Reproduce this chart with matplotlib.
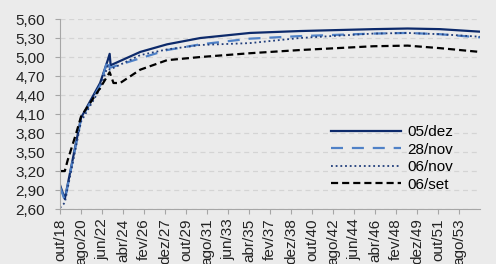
import matplotlib.pyplot as plt

# months since out/2018
meses_dez = [0, 5, 22, 42, 50, 52, 53, 84, 112, 147, 199, 251, 328, 364, 398, 440]
dez05 = [2.98, 2.76, 4.04, 4.59, 4.95, 5.05, 4.87, 5.08, 5.20, 5.30, 5.38, 5.41, 5.44, 5.45, 5.44, 5.40]

meses_nov28 = [0, 5, 22, 42, 50, 52, 84, 112, 147, 199, 251, 328, 364, 398, 440]
nov28 = [2.95, 2.74, 4.02, 4.55, 4.96, 4.83, 4.98, 5.11, 5.20, 5.29, 5.33, 5.37, 5.38, 5.36, 5.31]

meses_nov06 = [0, 5, 22, 42, 50, 52, 84, 112, 147, 199, 251, 328, 364, 398, 440]
nov06 = [2.62, 2.70, 3.98, 4.50, 4.86, 4.80, 5.03, 5.12, 5.19, 5.22, 5.30, 5.37, 5.38, 5.36, 5.32]

meses_set = [0, 5, 8, 17, 22, 42, 52, 56, 63, 84, 112, 147, 199, 251, 328, 364, 398, 440]
set06 = [3.20, 3.20, 3.37, 3.80, 4.06, 4.51, 4.76, 4.59, 4.59, 4.80, 4.95, 5.00, 5.06, 5.11, 5.17, 5.18, 5.14, 5.08]

xticks = list(range(0, 440, 22))
xlabels = ['out/18', 'ago/20', 'jun/22', 'abr/24', 'fev/26', 'dez/27', 'out/29',
           'ago/31', 'jun/33', 'abr/35', 'fev/37', 'dez/38', 'out/40', 'ago/42',
           'jun/44', 'abr/46', 'fev/48', 'dez/49', 'out/51', 'ago/53']
yticks = [2.6, 2.9, 3.2, 3.5, 3.8, 4.1, 4.4, 4.7, 5.0, 5.3, 5.6]

plt.rcParams['font.family'] = ['Liberation Sans', 'DejaVu Sans']
bg = '#EBEBEB'

fig = plt.figure(figsize=(4.96, 2.64), dpi=100, facecolor=bg)
ax = fig.add_axes([0.121, 0.208, 0.847, 0.72])
ax.set_facecolor(bg)

ax.plot(meses_dez, dez05, color='#0D2A6B', lw=1.6, label='05/dez')
ax.plot(meses_nov28, nov28, color='#4F81C7', lw=1.6, ls=(0, (5.4, 4)), label='28/nov')
ax.plot(meses_nov06, nov06, color='#1F3C7A', lw=1.3, ls=(0, (1, 1.6)), label='06/nov')
ax.plot(meses_set, set06, color='black', lw=1.6, ls=(0, (3.2, 1.8)), label='06/set')

ax.set_xlim(0, 440)
ax.set_ylim(2.6, 5.6)
ax.set_yticks(yticks)
ax.set_yticklabels([('%.2f' % v).replace('.', ',') for v in yticks])
ax.set_xticks(xticks)
ax.set_xticklabels(xlabels, rotation=90)

ax.yaxis.grid(True, color='#D4D4D4', ls=(0, (4, 3)), lw=0.9)
ax.set_axisbelow(True)
for s in ['top', 'right']:
    ax.spines[s].set_visible(False)
for s in ['left', 'bottom']:
    ax.spines[s].set_color('#A6A6A6')
ax.tick_params(axis='both', colors='#A6A6A6', labelcolor='#222222', labelsize=11, length=3.6)
ax.tick_params(axis='y', pad=7)
ax.tick_params(axis='x', pad=3)

ax.legend(loc='upper left', bbox_to_anchor=(0.645, 0.44), frameon=False,
          fontsize=11, handlelength=4.6, labelspacing=0.22, handletextpad=0.4,
          borderpad=0, borderaxespad=0)

fig.savefig('out.png', dpi=100, facecolor=bg)
